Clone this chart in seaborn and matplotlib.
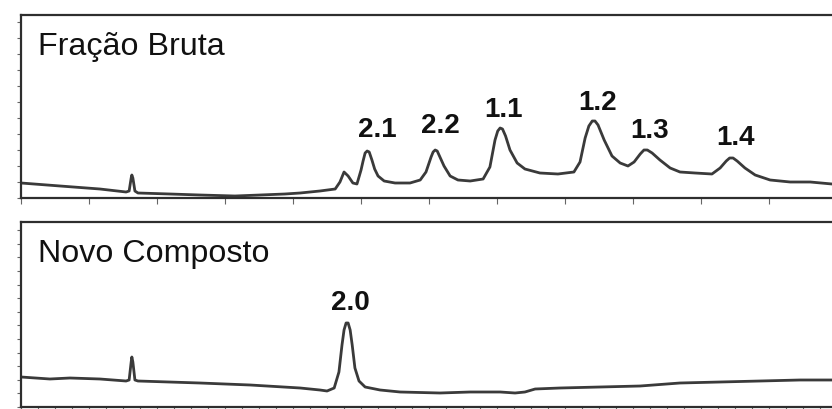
import matplotlib
matplotlib.use("Agg")
import matplotlib.pyplot as plt
import seaborn as sns
import pandas as pd
import numpy as np

# Retention time (min) and detector response (mAU) for the crude fraction
crude_time = [0.00, 1.15, 2.32, 3.09, 3.18, 3.24, 3.26, 3.29, 3.35, 3.44, 4.38, 5.26, 6.29,
              7.03, 7.76, 8.21, 8.79, 9.24, 9.38, 9.50, 9.62, 9.76, 9.88, 10.00, 10.06,
              10.12, 10.18, 10.24, 10.32, 10.40, 10.50, 10.68, 11.00, 11.44, 11.74, 11.91,
              12.06, 12.12, 12.18, 12.24, 12.32, 12.44, 12.62, 12.85, 13.21, 13.59, 13.79,
              13.94, 14.02, 14.09, 14.16, 14.25, 14.38, 14.59, 14.82, 15.26, 15.79, 16.26,
              16.44, 16.59, 16.70, 16.80, 16.88, 16.97, 17.15, 17.38, 17.62, 17.85, 18.03,
              18.21, 18.32, 18.42, 18.56, 18.79, 19.09, 19.38, 19.82, 20.32, 20.56, 20.74,
              20.84, 20.94, 21.06, 21.29, 21.59, 22.03, 22.62, 23.21, 23.85]
crude_signal = [15, 12, 9, 6, 7, 20, 23, 20, 7, 5, 4, 3, 2,
                3, 4, 5, 7, 9, 16, 26, 22, 15, 14, 28, 37,
                45, 47, 46, 38, 29, 22, 17, 15, 15, 18, 26,
                41, 46, 48, 47, 41, 32, 22, 18, 17, 19, 31,
                58, 67, 70, 69, 62, 48, 35, 29, 25, 24, 26,
                36, 60, 72, 77, 77, 73, 58, 42, 35, 32, 36,
                44, 48, 48, 45, 38, 30, 26, 25, 24, 30, 37,
                40, 40, 37, 30, 23, 18, 16, 16, 14]

# Retention time (min) and detector response (mAU) for the new compound
new_time = [0.00, 0.85, 1.44, 2.32, 3.09, 3.18, 3.24, 3.26, 3.29, 3.35, 3.44, 5.26, 6.74,
            8.21, 8.79, 9.00, 9.21, 9.35, 9.44, 9.50, 9.56, 9.62, 9.68, 9.74, 9.82, 9.94,
            10.12, 10.56, 11.15, 12.32, 13.21, 14.09, 14.53, 14.82, 15.12, 15.85, 17.03,
            18.21, 19.38, 20.56, 21.74, 22.91, 23.85]
new_signal = [30, 28, 29, 28, 26, 27, 45, 50, 45, 27, 26, 24, 22,
              19, 17, 16, 19, 35, 62, 77, 84, 84, 77, 62, 39, 26,
              20, 17, 15, 14, 15, 15, 14, 15, 18, 19, 20,
              21, 24, 25, 26, 27, 27]

# Peak labels: text, retention time, apex height
crude_labels = ["2.1", "2.2", "1.1", "1.2", "1.3", "1.4"]
crude_label_time = [10.18, 12.18, 14.09, 16.85, 18.38, 20.88]
crude_label_height = [47, 48, 70, 77, 48, 40]
new_labels = ["2.0"]
new_label_time = [9.59]
new_label_height = [84]

panel_titles = ["Fração Bruta", "Novo Composto"]

sns.set_theme(style="white")
plt.rcParams["font.family"] = ["Liberation Sans", "DejaVu Sans"]

W, H = 832, 409
fig = plt.figure(figsize=(W / 100, H / 100), dpi=100)
fig.patch.set_facecolor("white")

ax_top = fig.add_axes([21 / W, (H - 198) / H, (W - 21) / W, 183 / H])
ax_bot = fig.add_axes([21 / W, (H - 407) / H, (W - 21) / W, 185 / H])

line_color = "#3a3a3a"
spine_color = "#2e2e2e"

panels = [
    (ax_top, crude_time, crude_signal, crude_labels, crude_label_time, crude_label_height,
     panel_titles[0], 183, [10.5, 5, 3.5, 3.5, 4, 4], [14, 17, 11, 11, 12, 13], 16),
    (ax_bot, new_time, new_signal, new_labels, new_label_time, new_label_height,
     panel_titles[1], 185, [3], [13], 13.6),
]

for ax, t, s, labs, lt, lh, title, ymax, dxs, dys, ystep in panels:
    df = pd.DataFrame({"t": t, "s": s})
    sns.lineplot(data=df, x="t", y="s", ax=ax, color=line_color, linewidth=2.0,
                 sort=False, estimator=None)
    ax.set_xlim(0, 23.85)
    ax.set_ylim(0, ymax)
    ax.set_xlabel("")
    ax.set_ylabel("")
    ax.set_facecolor("white")
    ax.spines["right"].set_visible(False)
    for side in ["top", "left", "bottom"]:
        ax.spines[side].set_color(spine_color)
        ax.spines[side].set_linewidth(1.6)
    ax.set_yticks(np.arange(0, ymax, ystep))
    ax.set_yticklabels([])
    ax.tick_params(axis="y", direction="out", length=3, width=0.8, color="#666666", left=True)
    ax.tick_params(axis="x", direction="out", length=4, width=0.8, color="#666666", bottom=True)
    ax.text(17 / 811, 1 - 32 / ymax, title, transform=ax.transAxes,
            fontsize=23.2, color="#111111", va="center", ha="left")
    for lab, x0, y0, dx, dy in zip(labs, lt, lh, dxs, dys):
        ax.annotate(lab, xy=(x0, y0), xytext=(dx, dy), textcoords="offset pixels",
                    ha="center", va="baseline", fontsize=20, fontweight="bold",
                    color="#111111")

ax_top.set_xticks(np.arange(0, 24, 2))
ax_top.set_xticklabels([])
ax_bot.set_xticks(np.arange(0, 24, 0.5))
ax_bot.set_xticklabels([])

fig.savefig("out.png", dpi=100, facecolor="white")
